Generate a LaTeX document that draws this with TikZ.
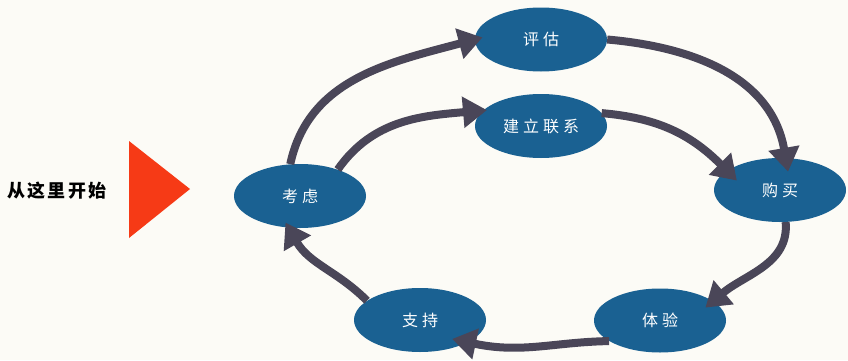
\documentclass[tikz,border=0pt]{standalone}
\usepackage{fontspec}
\newfontfamily\cjk{Noto Sans CJK SC}
\usetikzlibrary{arrows.meta,shapes.geometric}
\definecolor{nodeblue}{RGB}{26,97,146}
\definecolor{arrgray}{RGB}{74,70,88}
\definecolor{startred}{RGB}{246,58,22}
\definecolor{bgc}{RGB}{252,251,246}
\newcommand\gp{\hspace{4pt}}
\begin{document}
\begin{tikzpicture}[x=1pt,y=1pt,
  stage/.style={ellipse, fill=nodeblue, text=white, minimum width=132pt, minimum height=64pt, inner sep=0pt, font=\cjk\fontsize{16}{16}\selectfont},
  flow/.style={draw=arrgray, line width=8pt, -{Triangle[length=24pt,width=30pt]}}]
\fill[bgc] (0,0) rectangle (848,360);
\useasboundingbox (0,0) rectangle (848,360);
\node[font=\cjk\bfseries\fontsize{18}{18}\selectfont, inner sep=0pt] (start) at (57,169) {从\hspace{2.5pt}这\hspace{2.5pt}里\hspace{2.5pt}开\hspace{2.5pt}始};
\fill[startred] (129,219) -- (129,122) -- (190,171) -- cycle;
\node[stage] (kl) at (300,164) {考\gp 虑};
\node[stage] (pg) at (541,320.5) {评\gp 估};
\node[stage] (jl) at (541,234) {建\gp 立\gp 联\gp 系};
\node[stage] (gm) at (780,170) {购\gp 买};
\node[stage] (ty) at (660,39.5) {体\gp 验};
\node[stage] (zc) at (420,40) {支\gp 持};
\draw[flow, shorten >=-8pt] (kl.107) to[out=78,in=195] (pg.west);
\draw[flow, shorten >=-4pt] (kl.35) to[out=55,in=185] (jl.165);
\draw[flow, shorten >=-14pt] (pg.east) to[out=-5,in=100] (gm.80);
\draw[flow, shorten >=-14pt] (jl.12) to[out=-5,in=135] (gm.160);
\draw[flow, shorten >=-10pt] (gm.-80) to[out=-85,in=40] (ty.20);
\draw[flow, shorten >=-16pt] (ty.202) to[out=181,in=-12] (zc.-25);
\draw[flow, shorten >=-6pt] (zc.160) to[out=135,in=-60] (kl.-110);
\end{tikzpicture}
\end{document}
